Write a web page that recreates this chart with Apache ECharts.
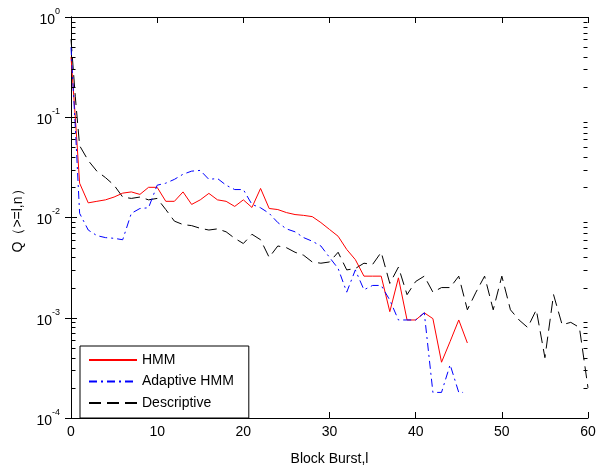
<!DOCTYPE html>
<html>
<head>
    <meta charset="utf-8">
    <title>Block Burst</title>
    <script src="https://cdn.jsdelivr.net/npm/echarts@6/dist/echarts.min.js"></script>
    <style>
        body { margin: 0; background: #fff; }
        #chart { width: 609px; height: 473px; }
    </style>
</head>
<body>
<div id="chart"></div>
<script>

// x positions and Q values
var hmmX = [0, 0.5, 1, 2, 3, 4, 5, 6, 7, 8, 9, 10, 11, 12, 13, 14, 15, 16, 17, 18, 19, 20, 21, 22, 23, 24,
    25, 26, 27, 28, 29, 30, 31, 32, 33, 34, 35, 36, 37, 38, 39, 40, 41, 42, 43, 44, 45, 46];
var hmmY = [0.4, 0.1, 0.022, 0.014, 0.0145, 0.015, 0.016, 0.0175, 0.018, 0.017, 0.02, 0.02, 0.0145, 0.0145,
    0.018, 0.0135, 0.015, 0.0174, 0.015, 0.0145, 0.0129, 0.015, 0.0126, 0.0195, 0.0123, 0.012, 0.0112, 0.0107,
    0.0105, 0.0102, 0.0089, 0.0076, 0.0065, 0.0048, 0.0038, 0.0026, 0.0026, 0.0026, 0.00115, 0.0025, 0.00095,
    0.00095, 0.00112, 0.00098, 0.00036, 0.00058, 0.00095, 0.00056];

var adaptX = [0, 0.5, 1, 2, 3, 4, 5, 6, 7, 8, 9, 10, 11, 12, 13, 14, 15, 16, 17, 18, 19, 20, 21, 22, 23, 24,
    25, 26, 27, 28, 29, 30, 31, 32, 33, 34, 35, 36, 37, 38, 39, 40, 41, 42, 43, 44, 45, 45.5];
var adaptY = [0.5, 0.08, 0.011, 0.0075, 0.0066, 0.0063, 0.0062, 0.006, 0.011, 0.0123, 0.0125, 0.021, 0.022,
    0.024, 0.027, 0.029, 0.0295, 0.024, 0.0245, 0.021, 0.019, 0.019, 0.0135, 0.0125, 0.011, 0.0089, 0.0077,
    0.0072, 0.0063, 0.0058, 0.0052, 0.004, 0.0031, 0.0018, 0.003, 0.0019, 0.0021, 0.0021, 0.0015, 0.00095,
    0.00095, 0.00095, 0.00112, 0.00018, 0.00018, 0.00034, 0.00018, 0.00018];

var descX = [0, 0.5, 1, 2, 3, 4, 5, 6, 7, 8, 9, 10, 11, 12, 13, 14, 15, 16, 17, 18, 19, 20, 21, 22, 23, 24,
    25, 26, 27, 28, 29, 30, 31, 32, 33, 34, 35, 36, 37, 38, 39, 40, 41, 42, 43, 44, 45, 46, 47, 48, 49, 50,
    51, 52, 53, 54, 55, 56, 57, 58, 59, 60];
var descY = [0.6, 0.16, 0.052, 0.037, 0.029, 0.025, 0.021, 0.016, 0.0155, 0.016, 0.015, 0.0155, 0.012, 0.0092,
    0.0085, 0.0083, 0.0078, 0.0075, 0.0077, 0.0072, 0.0062, 0.0055, 0.0068, 0.006, 0.004, 0.0052, 0.005,
    0.0045, 0.0042, 0.0036, 0.0035, 0.0036, 0.0045, 0.003, 0.0031, 0.0035, 0.0034, 0.0045, 0.0022, 0.0032,
    0.0017, 0.0023, 0.0026, 0.0018, 0.002, 0.002, 0.0026, 0.0012, 0.0018, 0.0026, 0.0012, 0.0026, 0.0012,
    0.00095, 0.0008, 0.0012, 0.0004, 0.0017, 0.00085, 0.0009, 0.0008, 0.0002];

var seriesNames = ['HMM', 'Adaptive HMM', 'Descriptive'];

function zip(xs, ys) {
    var out = [];
    for (var i = 0; i < xs.length; i++) out.push([xs[i], ys[i]]);
    return out;
}

// minor ticks of the log axis: 2..9 x 10^k, on the left (x=0) and right (x=60) edges
var minorVals = [];
for (var k = -4; k < 0; k++) {
    for (var m = 2; m <= 9; m++) {
        minorVals.push([0, m * Math.pow(10, k)]);
        minorVals.push([60, m * Math.pow(10, k)]);
    }
}

var font = 'Liberation Sans, Arial, sans-serif';

var myChart = echarts.init(document.getElementById('chart'));
var option = {
    animation: false,
    backgroundColor: '#fff',
    textStyle: { fontFamily: font },
    grid: { left: 71, right: 21, top: 17, bottom: 55 },
    legend: {
        data: seriesNames,
        orient: 'vertical',
        left: 80,
        top: 346,
        padding: [7, 15, 8, 8],
        itemGap: 7.5,
        itemWidth: 48,
        itemHeight: 14,
        itemStyle: { opacity: 0 },
        borderColor: '#000',
        borderWidth: 1,
        borderRadius: 0,
        backgroundColor: '#fff',
        textStyle: { fontSize: 14, color: '#000', fontFamily: font }
    },
    xAxis: [{
        type: 'value', min: 0, max: 60, interval: 10,
        position: 'bottom',
        name: 'Block Burst,l', nameLocation: 'middle', nameGap: 34,
        nameTextStyle: { fontSize: 14, color: '#000' },
        axisLine: { lineStyle: { color: '#000', width: 1 } },
        axisTick: { inside: true, length: 6, lineStyle: { color: '#000' } },
        axisLabel: { fontSize: 14, color: '#000', margin: 7 },
        splitLine: { show: false }
    }, {
        type: 'value', min: 0, max: 60, interval: 10,
        position: 'top',
        axisLine: { lineStyle: { color: '#000', width: 1 } },
        axisTick: { inside: true, length: 6, lineStyle: { color: '#000' } },
        axisLabel: { show: false },
        splitLine: { show: false }
    }],
    yAxis: [{
        type: 'log', logBase: 10, min: 0.0001, max: 1,
        position: 'left',
        name: 'Q（>=l,n）', nameLocation: 'middle', nameGap: 46, nameRotate: 90,
        nameTextStyle: { fontSize: 14, color: '#000' },
        axisLine: { lineStyle: { color: '#000', width: 1 } },
        axisTick: { inside: true, length: 6, lineStyle: { color: '#000' } },
        axisLabel: {
            margin: 11,
            formatter: function (v) {
                return '{b|10}{s|' + Math.round(Math.log10(v)) + '}';
            },
            rich: {
                b: { fontSize: 14, color: '#000', lineHeight: 20, verticalAlign: 'bottom' },
                s: { fontSize: 9, color: '#000', lineHeight: 20, verticalAlign: 'top' }
            }
        },
        splitLine: { show: false }
    }, {
        type: 'log', logBase: 10, min: 0.0001, max: 1,
        position: 'right',
        axisLine: { lineStyle: { color: '#000', width: 1 } },
        axisTick: { inside: true, length: 6, lineStyle: { color: '#000' } },
        axisLabel: { show: false },
        splitLine: { show: false }
    }],
    series: [{
        name: 'HMM', type: 'line', data: zip(hmmX, hmmY),
        symbol: 'none', z: 3,
        lineStyle: { color: '#ff0000', width: 1 },
        itemStyle: { color: '#ff0000' }
    }, {
        name: 'Adaptive HMM', type: 'line', data: zip(adaptX, adaptY),
        symbol: 'none', z: 4,
        lineStyle: { color: '#0000ff', width: 1, type: [8, 4, 2, 4] },
        itemStyle: { color: '#0000ff' }
    }, {
        name: 'Descriptive', type: 'line', data: zip(descX, descY),
        symbol: 'none', z: 2,
        lineStyle: { color: '#000', width: 1, type: [12, 6] },
        itemStyle: { color: '#000' }
    }, {
        name: 'minor', type: 'custom', data: minorVals, silent: true, z: 5, clip: false,
        renderItem: function (params, api) {
            var p = api.coord([api.value(0), api.value(1)]);
            var dir = api.value(0) > 30 ? -1 : 1;
            var x = Math.round(p[0]) + 0.5 * dir;
            var y = Math.round(p[1]) + 0.5;
            return {
                type: 'line',
                shape: { x1: x, y1: y, x2: x + dir * 4, y2: y },
                style: { stroke: '#000', lineWidth: 1 }
            };
        }
    }]
};
myChart.setOption(option);

</script>
</body>
</html>
